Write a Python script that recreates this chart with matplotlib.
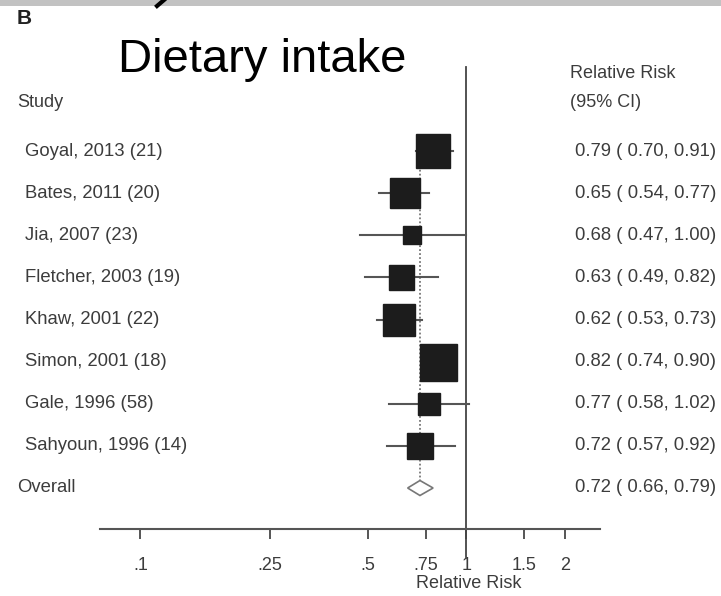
"""Forest plot: dietary intake and relative risk."""

import matplotlib.pyplot as plt
from matplotlib.lines import Line2D
from matplotlib.patches import Polygon, Rectangle
import matplotlib.transforms as mtransforms

plt.rcParams["font.family"] = ["Liberation Sans", "DejaVu Sans"]

studies = [
    "Goyal, 2013 (21)",
    "Bates, 2011 (20)",
    "Jia, 2007 (23)",
    "Fletcher, 2003 (19)",
    "Khaw, 2001 (22)",
    "Simon, 2001 (18)",
    "Gale, 1996 (58)",
    "Sahyoun, 1996 (14)",
]
rr = [0.79, 0.65, 0.68, 0.63, 0.62, 0.82, 0.77, 0.72]
ci_low = [0.70, 0.54, 0.47, 0.49, 0.53, 0.74, 0.58, 0.57]
ci_high = [0.91, 0.77, 1.00, 0.82, 0.73, 0.90, 1.02, 0.92]
box_px = [34, 30, 18, 25, 32, 37, 22, 26]  # square side

overall_rr = 0.72
overall_low = 0.66
overall_high = 0.79

tick_values = [0.1, 0.25, 0.5, 0.75, 1, 1.5, 2]
tick_labels = [".1", ".25", ".5", ".75", "1", "1.5", "2"]

W, H = 721, 596
TXT = "#3c3c3c"
LINE = "#555555"


def px_x(x):
    return x / W


def px_y(y):
    return 1 - y / H


fig = plt.figure(figsize=(W / 100, H / 100), dpi=100)

# axes covering the horizontal axis span (100..600 px) and rows (67..529 px)
ax = fig.add_axes([px_x(100), px_y(529), 500 / W, (529 - 67) / H])
ax.set_xscale("log")
ax.set_xlim(0.0752, 2.567)
row0, step = 151, 42.125
ax.set_ylim((529 - row0) / step, (67 - row0) / step)

for s in ["left", "right", "top"]:
    ax.spines[s].set_visible(False)
ax.spines["bottom"].set_color(LINE)
ax.spines["bottom"].set_linewidth(1.5)
ax.set_yticks([])
ax.set_xticks(tick_values)
ax.set_xticklabels(tick_labels)
ax.minorticks_off()
ax.tick_params(axis="x", direction="out", length=7, width=1.4, color=LINE,
               labelsize=13, labelcolor=TXT, pad=13)

# line of no effect, runs past the axis
y_bottom = (557 - row0) / step
ax.plot([1, 1], [(67 - row0) / step, y_bottom], color="#444444", lw=1.3,
        clip_on=False, zorder=2)

# dotted overall line
n = len(studies)
ax.plot([overall_rr, overall_rr], [-0.4, n - 0.18], color="#777777", lw=1.3,
        ls=(0, (1, 1.2)), zorder=1)

for i in range(n):
    ax.plot([ci_low[i], ci_high[i]], [i, i], color=LINE, lw=1.5, zorder=2)
    ax.plot(rr[i], i, marker="s", ms=box_px[i] * 0.72, color="#1c1c1c",
            mec="#1c1c1c", zorder=3)

h = 7.5 / step
diamond = Polygon([(overall_low, n), (overall_rr, n - h),
                   (overall_high, n), (overall_rr, n + h)],
                  closed=True, facecolor="white", edgecolor="#777777", lw=1.2,
                  zorder=3)
ax.add_patch(diamond)

# text columns
tr = mtransforms.blended_transform_factory(fig.transFigure, ax.transData)
for i, name in enumerate(studies):
    ax.text(px_x(25), i, name, transform=tr, ha="left", va="center",
            fontsize=13.3, color=TXT, clip_on=False)
    ax.text(px_x(575), i, f"{rr[i]:.2f} ( {ci_low[i]:.2f}, {ci_high[i]:.2f})",
            transform=tr, ha="left", va="center", fontsize=13.3, color=TXT,
            clip_on=False)
ax.text(px_x(17), n, "Overall", transform=tr, ha="left", va="center",
        fontsize=13.3, color=TXT, clip_on=False)
ax.text(px_x(575), n,
        f"{overall_rr:.2f} ( {overall_low:.2f}, {overall_high:.2f})",
        transform=tr, ha="left", va="center", fontsize=13.3, color=TXT,
        clip_on=False)

fig.text(px_x(17), px_y(103), "Study", ha="left", va="center", fontsize=13,
         color=TXT)
fig.text(px_x(570), px_y(74), "Relative Risk", ha="left", va="center",
         fontsize=13, color=TXT)
fig.text(px_x(570), px_y(103), "(95% CI)", ha="left", va="center",
         fontsize=13, color=TXT)
fig.text(px_x(469), px_y(583), "Relative Risk", ha="center", va="center",
         fontsize=13, color=TXT)

# panel label and title
fig.text(px_x(17), px_y(19), "B", ha="left", va="center", fontsize=15,
         fontweight="bold", color="#222222")
fig.text(px_x(118), px_y(72), "Dietary intake", ha="left", va="baseline",
         fontsize=34, color="black")

# cropped strip of the previous panel at the very top
fig.patches.append(Rectangle((0, px_y(6)), 1, 6 / H, transform=fig.transFigure,
                             facecolor="#c2c2c2", edgecolor="none"))
fig.add_artist(Line2D([px_x(164), px_x(157)], [px_y(0), px_y(6)],
                      transform=fig.transFigure, color="black", lw=3))

fig.savefig("out.png", dpi=100)
